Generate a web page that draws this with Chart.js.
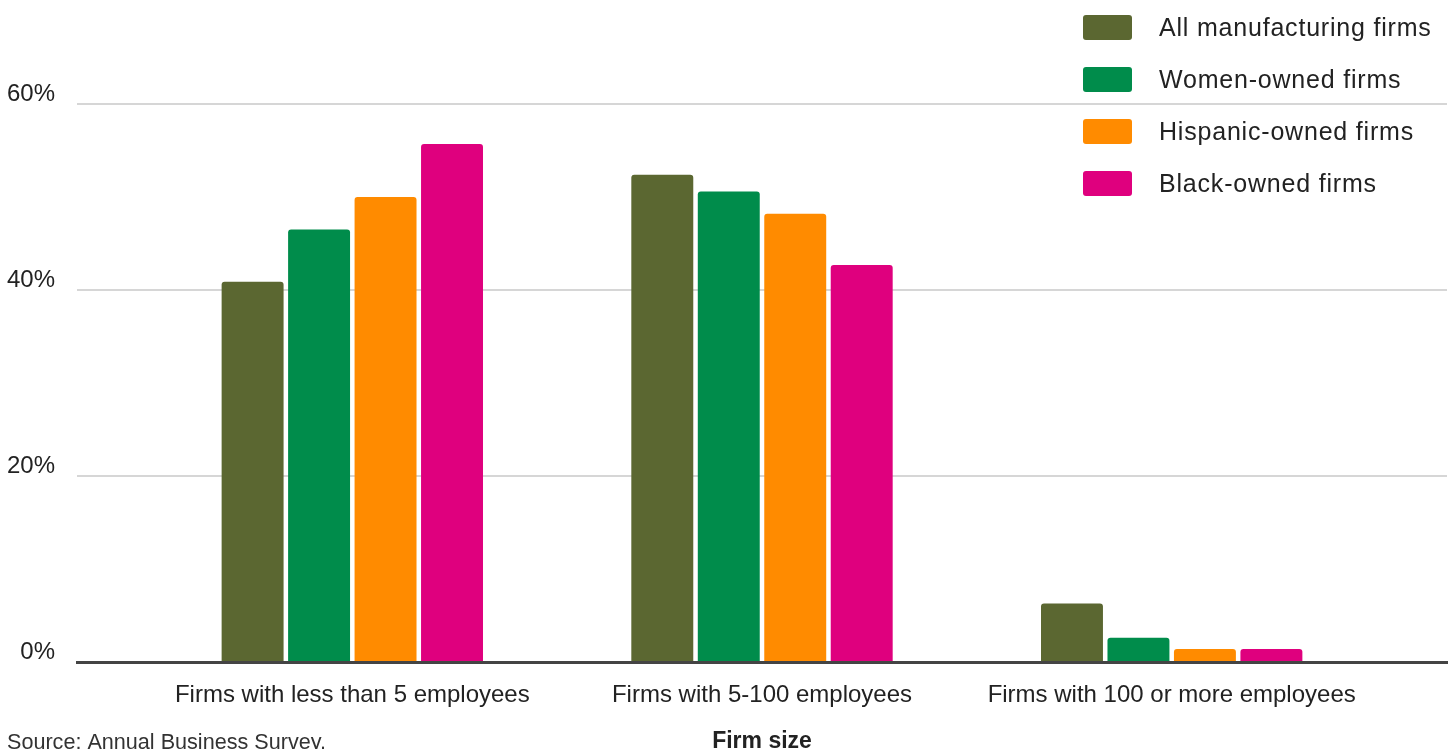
<!DOCTYPE html>
<html>
<head>
<meta charset="utf-8">
<script src="https://cdn.jsdelivr.net/npm/chart.js@4.4.1/dist/chart.umd.min.js"></script>
<style>
html,body{margin:0;padding:0;background:#fff;overflow:hidden;}
#wrap{position:relative;width:1453px;height:749px;}
#legend{position:absolute;left:1083px;top:15px;font-family:"Liberation Sans",Arial,sans-serif;font-size:25px;color:#222;letter-spacing:0.8px;}
#legend .item{display:flex;align-items:center;height:25px;margin-bottom:27px;white-space:nowrap;}
#legend .box{width:49px;height:25px;border-radius:3px;margin-right:27px;flex:none;}
</style>
</head>
<body>
<div id="wrap">
  <canvas id="c" width="1453" height="749"></canvas>
  <div id="legend"></div>
</div>
<script>
// ---- data ----
const categories = ['Firms with less than 5 employees', 'Firms with 5-100 employees', 'Firms with 100 or more employees'];
const seriesNames = ['All manufacturing firms', 'Women-owned firms', 'Hispanic-owned firms', 'Black-owned firms'];
const allManufacturing = [40.9, 52.4, 6.3];
const womenOwned = [46.5, 50.6, 2.6];
const hispanicOwned = [50.0, 48.2, 1.4];
const blackOwned = [55.7, 42.7, 1.4];
const yTickValues = [0, 20, 40, 60];
const xAxisTitle = 'Firm size';
const sourceNote = 'Source: Annual Business Survey.';

// ---- styles ----
const colors = ['#5b6731', '#008c4b', '#ff8b00', '#df007e'];
const seriesValues = [allManufacturing, womenOwned, hispanicOwned, blackOwned];

Chart.defaults.font.family = '"Liberation Sans", Arial, sans-serif';
Chart.defaults.color = '#222';

const htmlLegend = {
  id: 'htmlLegend',
  afterUpdate(chart) {
    const el = document.getElementById('legend');
    el.innerHTML = '';
    const items = chart.options.plugins.legend.labels.generateLabels(chart);
    items.forEach(item => {
      const row = document.createElement('div');
      row.className = 'item';
      const box = document.createElement('span');
      box.className = 'box';
      box.style.background = item.fillStyle;
      const txt = document.createElement('span');
      txt.textContent = item.text;
      row.appendChild(box);
      row.appendChild(txt);
      el.appendChild(row);
    });
  }
};

new Chart(document.getElementById('c'), {
  type: 'bar',
  data: {
    datasets: seriesNames.map((name, s) => ({
      label: name,
      data: seriesValues[s].map((v, i) => ({x: i, y: v})),
      backgroundColor: colors[s],
      borderWidth: 0,
      borderRadius: {topLeft: 3, topRight: 3, bottomLeft: 0, bottomRight: 0},
      borderSkipped: 'bottom',
      categoryPercentage: 0.649,
      barPercentage: 0.932
    }))
  },
  options: {
    responsive: false,
    animation: false,
    layout: {padding: {left: 7, right: 6, top: 104, bottom: 0}},
    plugins: {
      legend: {display: false},
      tooltip: {enabled: false},
      title: {
        display: true,
        text: sourceNote,
        position: 'bottom',
        align: 'start',
        color: '#333',
        font: {size: 21.6, weight: 'normal'},
        padding: {top: -18.96, bottom: -6.96}
      }
    },
    scales: {
      x: {
        type: 'linear',
        min: -0.672,
        max: 2.672,
        offset: false,
        bounds: 'data',
        afterBuildTicks(scale) {
          scale.ticks = categories.map((c, i) => ({value: i}));
        },
        afterFit(scale) { scale.height = 87; },
        grid: {display: false, drawTicks: false},
        border: {display: true, color: '#444', width: 3},
        ticks: {
          autoSkip: false,
          maxRotation: 0,
          padding: 18.5,
          font: {size: 24},
          color: '#222',
          callback: (v) => categories[v] !== undefined ? categories[v] : ''
        },
        title: {
          display: true,
          text: xAxisTitle,
          color: '#222',
          font: {size: 23, weight: 'bold'},
          padding: {top: 18, bottom: -6.5}
        }
      },
      y: {
        min: 0,
        max: 60,
        afterBuildTicks(scale) {
          scale.ticks = yTickValues.map(v => ({value: v}));
        },
        afterFit(scale) { scale.width = 70; },
        border: {display: false},
        grid: {
          drawTicks: false,
          lineWidth: 2,
          color: (ctx) => ctx.tick && ctx.tick.value === 0 ? 'rgba(0,0,0,0)' : '#d6d6d6'
        },
        ticks: {
          padding: 22,
          labelOffset: -10,
          font: {size: 24},
          color: '#222',
          callback: (v) => v + '%'
        }
      }
    }
  },
  plugins: [htmlLegend]
});
</script>
</body>
</html>
